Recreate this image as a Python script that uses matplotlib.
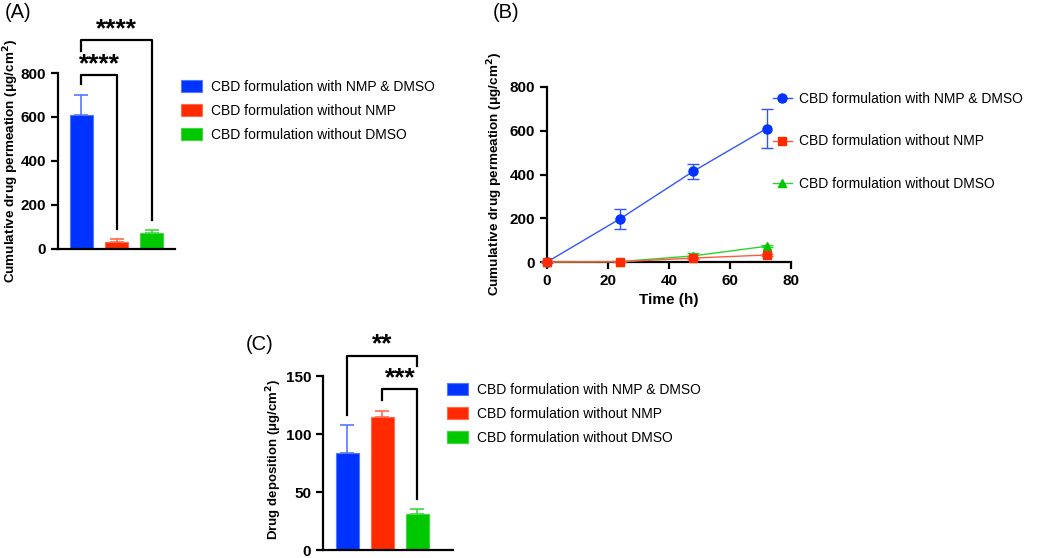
import numpy as np
import matplotlib
matplotlib.use("Agg")
import matplotlib.pyplot as plt
from matplotlib.lines import Line2D

plt.rcParams['font.family'] = ['Liberation Sans', 'DejaVu Sans']

groups = ["CBD formulation with NMP & DMSO", "CBD formulation without NMP", "CBD formulation without DMSO"]
colors = ["#0033ff", "#ff2a00", "#00c800"]
err_colors = ["#5577ff", "#ff6a50", "#40d840"]
line_colors = ["#3355ff", "#ff5a40", "#30d030"]
markers = ['o', 's', '^']

# (A) cumulative permeation at 72 h
perm_mean = [610, 32, 72]
perm_sd = [90, 14, 16]

# (B) permeation profile
time_h = [0, 24, 48, 72]
with_both = [0, 198, 415, 610]
with_both_sd = [0, 46, 35, 88]
no_nmp = [0, 1, 18, 32]
no_nmp_sd = [0, 1, 4, 5]
no_dmso = [0, 2, 28, 72]
no_dmso_sd = [0, 1, 15, 4]

# (C) deposition
dep_mean = [84, 115, 31]
dep_sd = [24, 5, 4]

W, H = 1050, 558
fig = plt.figure(figsize=(10.5, 5.58), dpi=100)


def px_axes(x0, x1, y_top, y_bot):
    return fig.add_axes([x0 / W, (H - y_bot) / H, (x1 - x0) / W, (y_bot - y_top) / H])


def style(ax):
    for s in ['top', 'right']:
        ax.spines[s].set_visible(False)
    for s in ['left', 'bottom']:
        ax.spines[s].set_linewidth(1.6)
    ax.tick_params(axis='both', width=1.6, length=5, labelsize=11)
    for lab in ax.get_yticklabels() + ax.get_xticklabels():
        lab.set_fontweight('bold')


def bracket(ax, x1, x2, y, y1, y2, stars, ys):
    ax.plot([x1, x1, x2, x2], [y1, y, y, y2], color='black', lw=1.6, clip_on=False)
    ax.text((x1 + x2) / 2, ys, stars, ha='center', va='center', fontsize=19,
            fontweight='bold', clip_on=False)


def bar_panel(ax, means, sds):
    x = np.arange(len(means))
    for i in x:
        ax.bar(i, means[i], width=0.66, color=colors[i], edgecolor=err_colors[i], linewidth=0.8,
               label=groups[i], zorder=2)
        ax.errorbar(i, means[i], yerr=[[0], [sds[i]]], color=err_colors[i], capsize=5,
                    elinewidth=1.2, capthick=1.2, zorder=1)
    ax.set_xticks([])
    ax.spines['bottom'].set_zorder(3)


leg_kw = dict(bbox_transform=fig.transFigure, loc='upper left', frameon=False, fontsize=10,
              borderpad=0, borderaxespad=0)

# Panel A
axA = px_axes(58, 175, 73, 249)
bar_panel(axA, perm_mean, perm_sd)
axA.set_xlim(-0.67, 2.67)
axA.set_ylim(0, 800)
axA.set_yticks([0, 200, 400, 600, 800])
axA.set_ylabel("Cumulative drug permeation (\u03bcg/cm$^\\mathbf{2}$)", fontsize=9.7, fontweight='bold')
axA.yaxis.set_label_coords(-0.32, 0.5)
style(axA)
bracket(axA, 0, 1, 790, 750, 91, "****", 840)
bracket(axA, 0, 2, 950, 900, 132, "****", 1000)
axA.legend(bbox_to_anchor=(181 / W, (H - 80) / H), handlelength=1.5, handleheight=0.9,
           labelspacing=0.72, handletextpad=0.65, **leg_kw)
fig.text(5 / W, (H - 12) / H, "(A)", fontsize=14.5, va='center', ha='left')

# Panel B
axB = px_axes(547, 791, 87, 262)
series = [(with_both, with_both_sd), (no_nmp, no_nmp_sd), (no_dmso, no_dmso_sd)]
msizes = [6.5, 6, 5.5]
for i, (vals, sd) in enumerate(series):
    axB.errorbar(time_h, vals, yerr=sd, color=line_colors[i], marker=markers[i], markersize=msizes[i],
                 mfc=colors[i], mec=colors[i], lw=1, capsize=4, elinewidth=1, clip_on=False,
                 zorder=3 + (i == 1))
axB.set_xlim(0, 80)
axB.set_ylim(0, 800)
axB.set_xticks([0, 20, 40, 60, 80])
axB.set_yticks([0, 200, 400, 600, 800])
axB.set_xlabel("Time (h)", fontsize=11, fontweight='bold', labelpad=4)
axB.set_ylabel("Cumulative drug permeation (\u03bcg/cm$^\\mathbf{2}$)", fontsize=9.7, fontweight='bold')
axB.yaxis.set_label_coords(-0.172, 0.5)
style(axB)
handles = [Line2D([], [], color=line_colors[i], lw=1, marker=markers[i], markersize=msizes[i],
                  mfc=colors[i], mec=colors[i]) for i in range(3)]
axB.legend(handles, groups, bbox_to_anchor=(773 / W, (H - 92) / H), handlelength=1.35,
           labelspacing=2.05, handletextpad=0.55, **leg_kw)
fig.text(493 / W, (H - 12) / H, "(B)", fontsize=14.5, va='center', ha='left')

# Panel C
axC = px_axes(323, 453, 376, 550)
bar_panel(axC, dep_mean, dep_sd)
axC.set_xlim(-0.7, 3.02)
axC.set_ylim(0, 150)
axC.set_yticks([0, 50, 100, 150])
axC.set_ylabel("Drug deposition (\u03bcg/cm$^\\mathbf{2}$)", fontsize=9.5, fontweight='bold')
axC.yaxis.set_label_coords(-0.30, 0.52)
style(axC)
bracket(axC, 0, 2, 167, 116, 159, "**", 177)
bracket(axC, 1, 2, 139, 129, 44, "***", 148)
axC.legend(bbox_to_anchor=(447 / W, (H - 383) / H), handlelength=1.5, handleheight=0.9,
           labelspacing=0.72, handletextpad=0.65, **leg_kw)
fig.text(246 / W, (H - 344) / H, "(C)", fontsize=14.5, va='center', ha='left')

fig.savefig("out.png", dpi=100)
